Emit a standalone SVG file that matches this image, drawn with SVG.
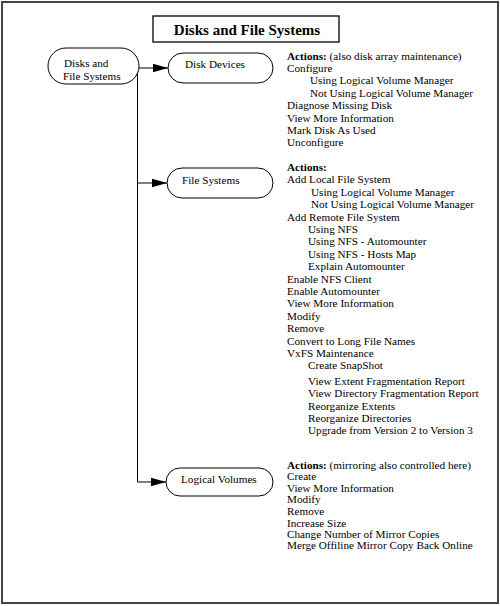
<svg xmlns="http://www.w3.org/2000/svg" width="500" height="606" viewBox="0 0 500 606">
<style>
text{font-family:"Liberation Serif","Times New Roman",serif;font-size:11.2px;fill:#000}
.node{fill:#fff;stroke:#000;stroke-width:1}
.conn{fill:none;stroke:#000;stroke-width:1}
.title{font-size:15px;font-weight:bold}
.b{font-weight:bold}
</style>
<defs>
<marker id="arr" markerUnits="userSpaceOnUse" markerWidth="16" markerHeight="10" refX="15" refY="5" orient="auto">
<path d="M0,0.8 L15,5 L0,9.2 Z" fill="#000"/>
</marker>
</defs>
<rect x="2" y="2" width="496" height="601" fill="#fff" stroke="#444" stroke-width="2"/>
<g id="title">
<rect x="153" y="16" width="186" height="26" fill="#fff" stroke="#000" stroke-width="1.3"/>
<text class="title" x="247" y="35" text-anchor="middle">Disks and File Systems</text>
</g>
<g id="connectors">
<line class="conn" x1="139" y1="68" x2="168" y2="68" marker-end="url(#arr)"/>
<polyline class="conn" points="137.5,70 137.5,482 166,482" marker-end="url(#arr)"/>
<line class="conn" x1="137.5" y1="183" x2="167" y2="183" marker-end="url(#arr)"/>
</g>
<g id="root">
<rect class="node" x="48" y="48" width="91" height="36" rx="18" ry="18"/>
<text x="64" y="67">Disks and</text>
<text x="63" y="80">File Systems</text>
</g>
<g id="disk-devices">
<rect class="node" x="168" y="53" width="105" height="30" rx="15" ry="15"/>
<text x="185" y="68">Disk Devices</text>
</g>
<g id="file-systems">
<rect class="node" x="167" y="168" width="106" height="30" rx="15" ry="15"/>
<text x="182" y="183.5">File Systems</text>
</g>
<g id="logical-volumes">
<rect class="node" x="166" y="468" width="107" height="28" rx="14" ry="14"/>
<text x="181" y="483">Logical Volumes</text>
</g>
<g id="disk-devices-actions">
<text x="287" y="59.5"><tspan class="b">Actions:</tspan> (also disk array maintenance)</text>
<text x="287" y="71.9">Configure</text>
<text x="310" y="84.3">Using Logical Volume Manager</text>
<text x="310" y="96.7">Not Using Logical Volume Manager</text>
<text x="287" y="109.1">Diagnose Missing Disk</text>
<text x="287" y="121.5">View More Information</text>
<text x="287" y="133.9">Mark Disk As Used</text>
<text x="287" y="146.3">Unconfigure</text>
</g>
<g id="file-systems-actions">
<text x="287" y="171" class="b">Actions:</text>
<text x="287" y="183.4">Add Local File System</text>
<text x="311" y="195.8">Using Logical Volume Manager</text>
<text x="311" y="208.2">Not Using Logical Volume Manager</text>
<text x="287" y="220.6">Add Remote File System</text>
<text x="308" y="233">Using NFS</text>
<text x="308" y="245.4">Using NFS - Automounter</text>
<text x="308" y="257.8">Using NFS - Hosts Map</text>
<text x="308" y="270.2">Explain Automounter</text>
<text x="287" y="282.6">Enable NFS Client</text>
<text x="287" y="295">Enable Automounter</text>
<text x="287" y="307.4">View More Information</text>
<text x="287" y="319.8">Modify</text>
<text x="287" y="332.2">Remove</text>
<text x="287" y="344.6">Convert to Long File Names</text>
<text x="287" y="357">VxFS Maintenance</text>
<text x="308" y="369.4">Create SnapShot</text>
<text x="308" y="384.8">View Extent Fragmentation Report</text>
<text x="308" y="397.2">View Directory Fragmentation Report</text>
<text x="308" y="409.6">Reorganize Extents</text>
<text x="308" y="422">Reorganize Directories</text>
<text x="308" y="434.4">Upgrade from Version 2 to Version 3</text>
</g>
<g id="logical-volumes-actions">
<text x="287" y="469"><tspan class="b">Actions:</tspan> (mirroring also controlled here)</text>
<text x="287" y="480.3">Create</text>
<text x="287" y="491.6">View More Information</text>
<text x="287" y="502.9">Modify</text>
<text x="287" y="514.7">Remove</text>
<text x="287" y="526.5">Increase Size</text>
<text x="287" y="537.8">Change Number of Mirror Copies</text>
<text x="287" y="549">Merge Offiline Mirror Copy Back Online</text>
</g>
</svg>
